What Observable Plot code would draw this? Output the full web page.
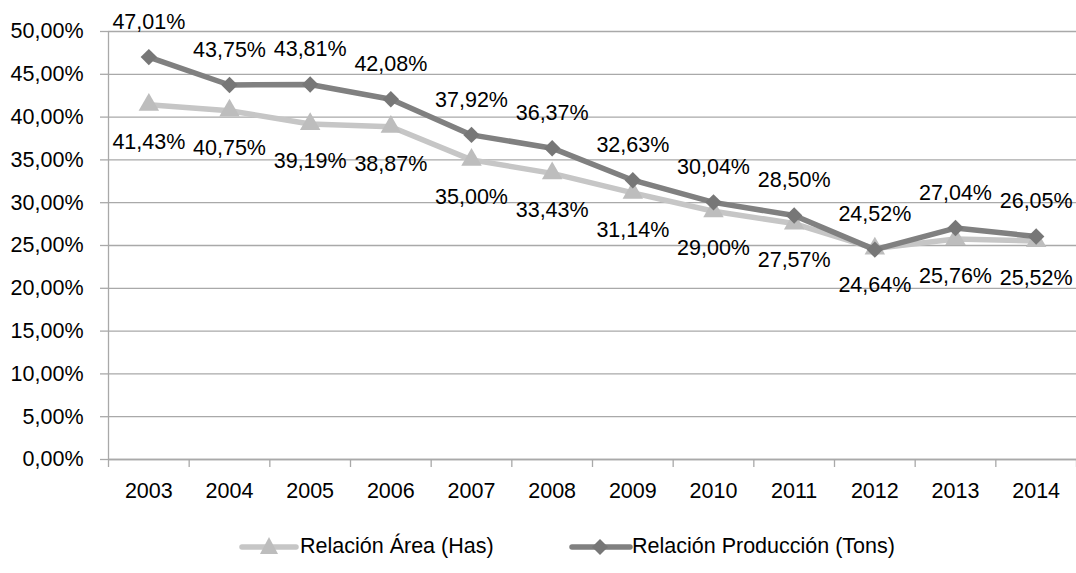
<!DOCTYPE html>
<html><head><meta charset="utf-8">
<script src="https://cdn.jsdelivr.net/npm/d3@7"></script>
<script src="https://cdn.jsdelivr.net/npm/@observablehq/plot@0.6"></script>
<style>
body{margin:0;background:#fff;font-family:"Liberation Sans",Arial,sans-serif;}
#chart{width:1076px;height:573px;overflow:hidden}
.legend{position:relative;height:53px;width:1076px;font-size:21.5px;color:#000}
.legend .sw{position:absolute;top:16px}
.legend .lb{position:absolute;top:14px;white-space:nowrap;line-height:24px}
</style></head><body><div id="chart"></div>
<script>
const years = [2003,2004,2005,2006,2007,2008,2009,2010,2011,2012,2013,2014];
const area = [41.43,40.75,39.19,38.87,35.00,33.43,31.14,29.00,27.57,24.64,25.76,25.52];
const produccion = [47.01,43.75,43.81,42.08,37.92,36.37,32.63,30.04,28.50,24.52,27.04,26.05];
const yTicks = [0,5,10,15,20,25,30,35,40,45,50];
const seriesNames = ["Relación Área (Has)","Relación Producción (Tons)"];

const fmt = d => d.toFixed(2).replace(".", ",") + "%";
const bounds = years.map(y => y - 0.5).concat([years[years.length-1] + 0.5]);
const dArea = years.map((y,i) => ({year:y, v:area[i]}));
const dProd = years.map((y,i) => ({year:y, v:produccion[i]}));

const colArea = "#c6c6c6", colAreaM = "#bdbdbd";
const colProd = "#808080", colProdM = "#777777";
const gridCol = "#a9a9a9";
const fs = 21.5;

const plot = Plot.plot({
  width: 1076, height: 520,
  marginLeft: 108, marginRight: 0, marginTop: 31, marginBottom: 61,
  style: {fontFamily: '"Liberation Sans", Arial, sans-serif', fontSize: fs + "px", color: "#000", background: "#fff"},
  x: {type: "linear", domain: [bounds[0], bounds[bounds.length-1]]},
  y: {domain: [0, 50]},
  marks: [
    Plot.gridY(yTicks, {stroke: gridCol, strokeOpacity: 1, strokeWidth: 1.3}),
    Plot.axisY(yTicks, {tickSize: 8, tickPadding: 17, tickFormat: fmt, fontSize: fs, stroke: gridCol, strokeWidth: 1.3, fill: "#000", label: null}),
    Plot.ruleX([bounds[0]], {stroke: gridCol, strokeWidth: 1.3}),
    Plot.ruleY([0], {stroke: gridCol, strokeWidth: 1.3}),
    Plot.axisX(bounds, {tickSize: 8, tickFormat: () => "", stroke: gridCol, strokeWidth: 1.3, label: null}),
    Plot.axisX(years, {tickSize: 0, tickPadding: 23, tickFormat: d => String(d), fontSize: fs, fill: "#000", label: null}),
    Plot.line(dArea, {x: "year", y: "v", stroke: colArea, strokeWidth: 5.5}),
    Plot.dot(dArea, {x: "year", y: "v", symbol: "triangle", r: 7.6, fill: colAreaM, stroke: "none"}),
    Plot.text(dArea, {x: "year", y: "v", text: d => fmt(d.v), dy: 37, fontSize: fs, fill: "#000"}),
    Plot.line(dProd, {x: "year", y: "v", stroke: colProd, strokeWidth: 5.5}),
    Plot.dot(dProd, {x: "year", y: "v", symbol: "diamond2", r: 7.4, fill: colProdM, stroke: "none"}),
    Plot.text(dProd, {x: "year", y: "v", text: d => fmt(d.v), dy: -35, fontSize: fs, fill: "#000"})
  ]
});

const root = document.getElementById("chart");
root.appendChild(plot);

const leg = document.createElement("div");
leg.className = "legend";
leg.innerHTML = `
<svg class="sw" style="left:239px" width="60" height="22"><line x1="3" y1="11" x2="57" y2="11" stroke="${colArea}" stroke-width="5.5" stroke-linecap="round"/><path d="M30,1 L39,18 L21,18 Z" fill="${colAreaM}"/></svg>
<span class="lb" style="left:300px">${seriesNames[0]}</span>
<svg class="sw" style="left:569px" width="64" height="22"><line x1="3" y1="11" x2="61" y2="11" stroke="${colProd}" stroke-width="5.5" stroke-linecap="round"/><path d="M31,3 L39,11 L31,19 L23,11 Z" fill="${colProdM}"/></svg>
<span class="lb" style="left:632px">${seriesNames[1]}</span>`;
root.appendChild(leg);
</script></body></html>
